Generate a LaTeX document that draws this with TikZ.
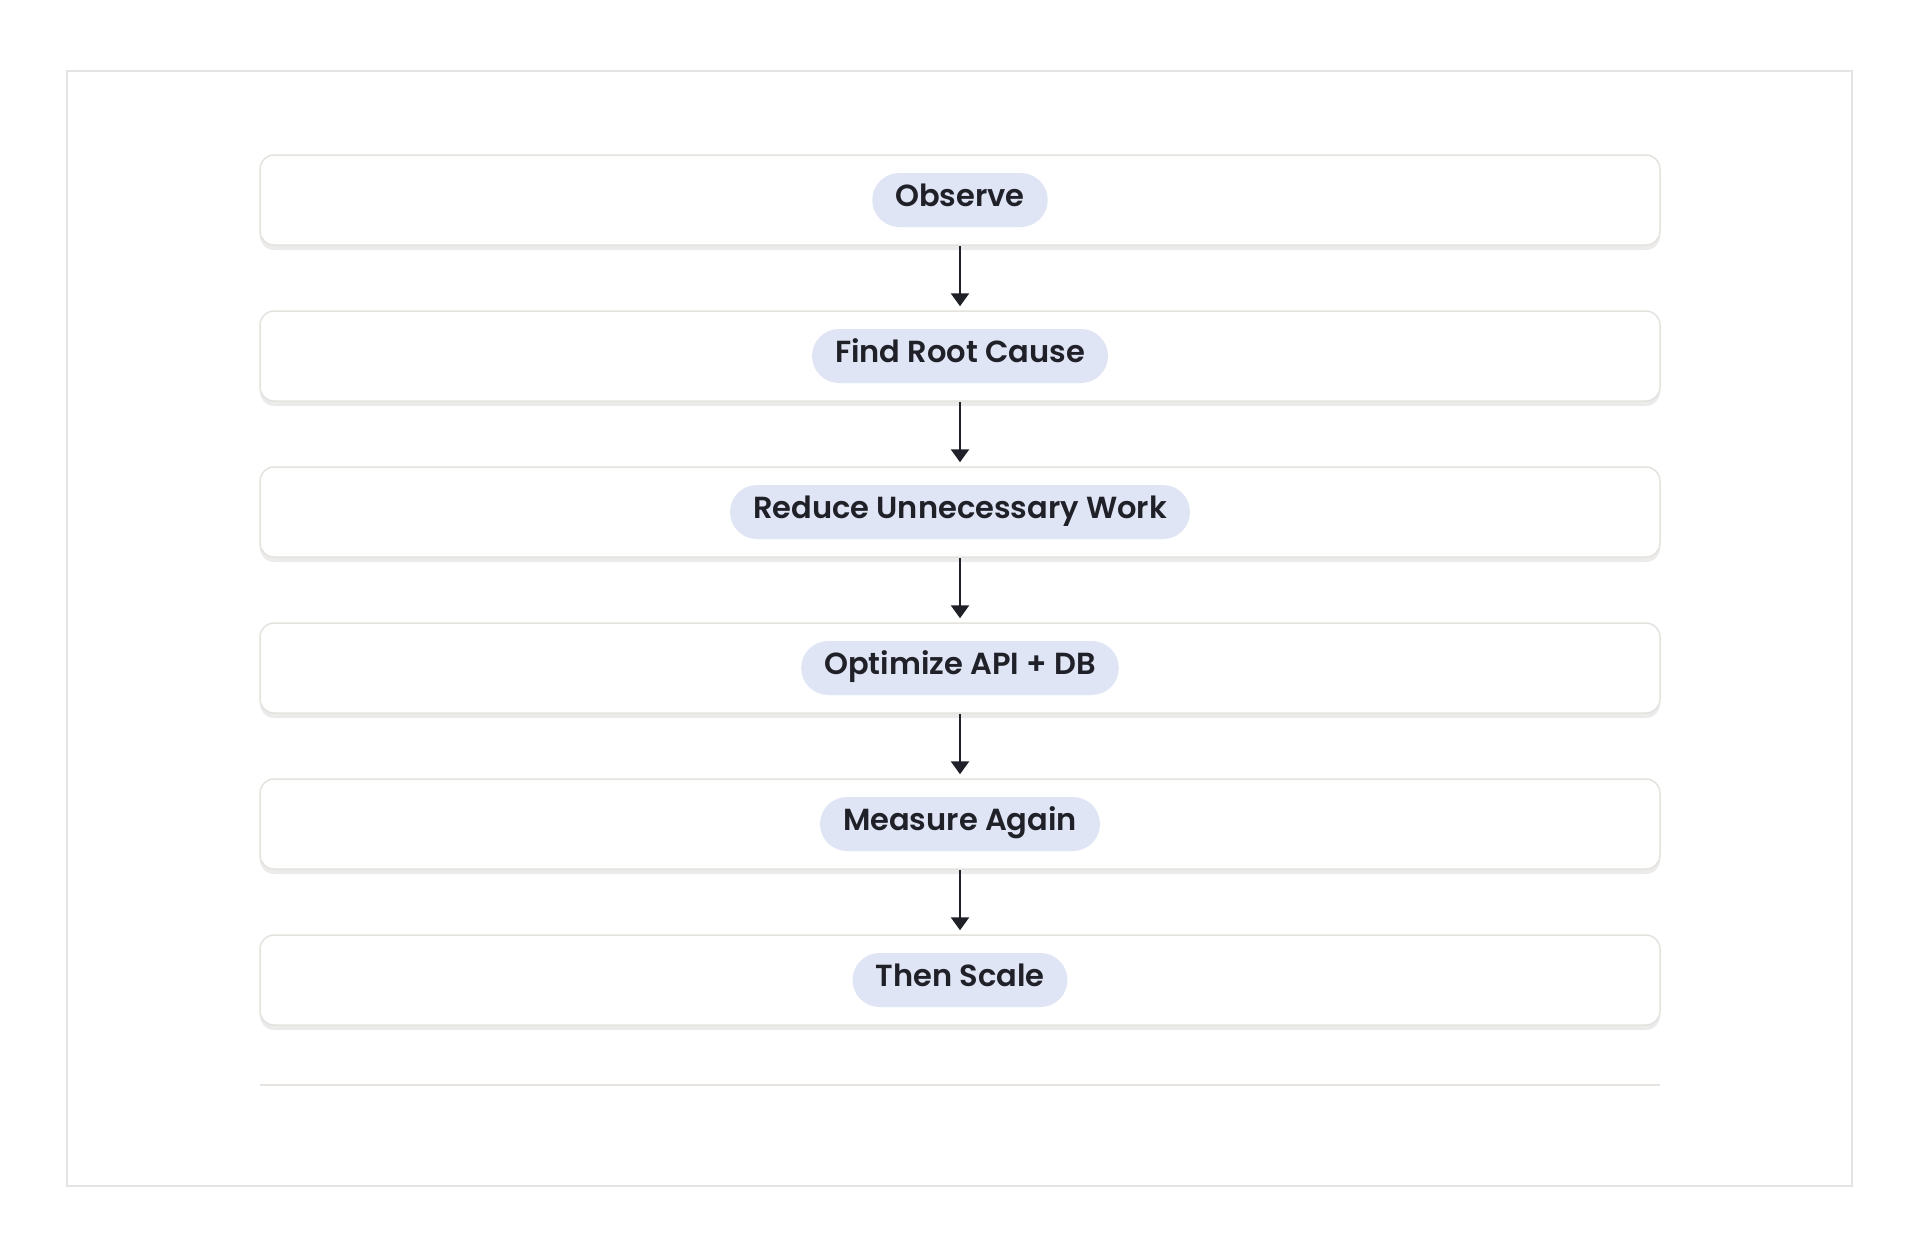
\documentclass[tikz,border=0pt]{standalone}
\usepackage{fontspec}
\setmainfont{Poppins}[BoldFont={Poppins SemiBold}]
\usetikzlibrary{arrows.meta,shadows}
\definecolor{framec}{HTML}{E4E4E4}
\definecolor{boxline}{HTML}{E6E2DE}
\definecolor{shadowc}{HTML}{EBEBEB}
\definecolor{pillc}{HTML}{DFE5F5}
\definecolor{inkc}{HTML}{1F2028}
\tikzset{
  stepbox/.style={draw=boxline, line width=1.5pt, fill=white, rounded corners=14pt,
    minimum width=1400pt, minimum height=90pt, inner sep=0pt,
    drop shadow={shadow xshift=0pt, shadow yshift=-5pt, fill=shadowc, opacity=1}},
  pill/.style={fill=pillc, rounded corners=27pt, minimum height=54pt, inner xsep=23pt,
    inner ysep=0pt, text height=23pt, text depth=11pt, text=inkc,
    font=\fontsize{30.5pt}{34pt}\selectfont\bfseries},
  flow/.style={draw=inkc, line width=2.6pt, -{Triangle[width=18pt,length=13pt]}, shorten >=4pt}
}
\begin{document}
\begin{tikzpicture}[x=1pt,y=-1pt]
\useasboundingbox (0,0) rectangle (1920,1240);
\fill[white] (0,0) rectangle (1920,1240);
\draw[framec, line width=2pt] (67,71) rectangle (1852,1186);
\node[stepbox] (b1) at (960,200) {};
\node[stepbox] (b2) at (960,356) {};
\node[stepbox] (b3) at (960,512) {};
\node[stepbox] (b4) at (960,668) {};
\node[stepbox] (b5) at (960,824) {};
\node[stepbox] (b6) at (960,980) {};
\node[pill] (p1) at (b1.center) {Observe};
\node[pill] (p2) at (b2.center) {Find Root Cause};
\node[pill] (p3) at (b3.center) {Reduce Unnecessary Work};
\node[pill] (p4) at (b4.center) {Optimize API + DB};
\node[pill] (p5) at (b5.center) {Measure Again};
\node[pill] (p6) at (b6.center) {Then Scale};
\draw[flow] (b1.south) -- (b2.north);
\draw[flow] (b2.south) -- (b3.north);
\draw[flow] (b3.south) -- (b4.north);
\draw[flow] (b4.south) -- (b5.north);
\draw[flow] (b5.south) -- (b6.north);
\coordinate (sepL) at (260,1085);
\coordinate (sepR) at (1660,1085);
\draw[boxline, line width=1.5pt] (sepL) -- (sepR);
\end{tikzpicture}
\end{document}
